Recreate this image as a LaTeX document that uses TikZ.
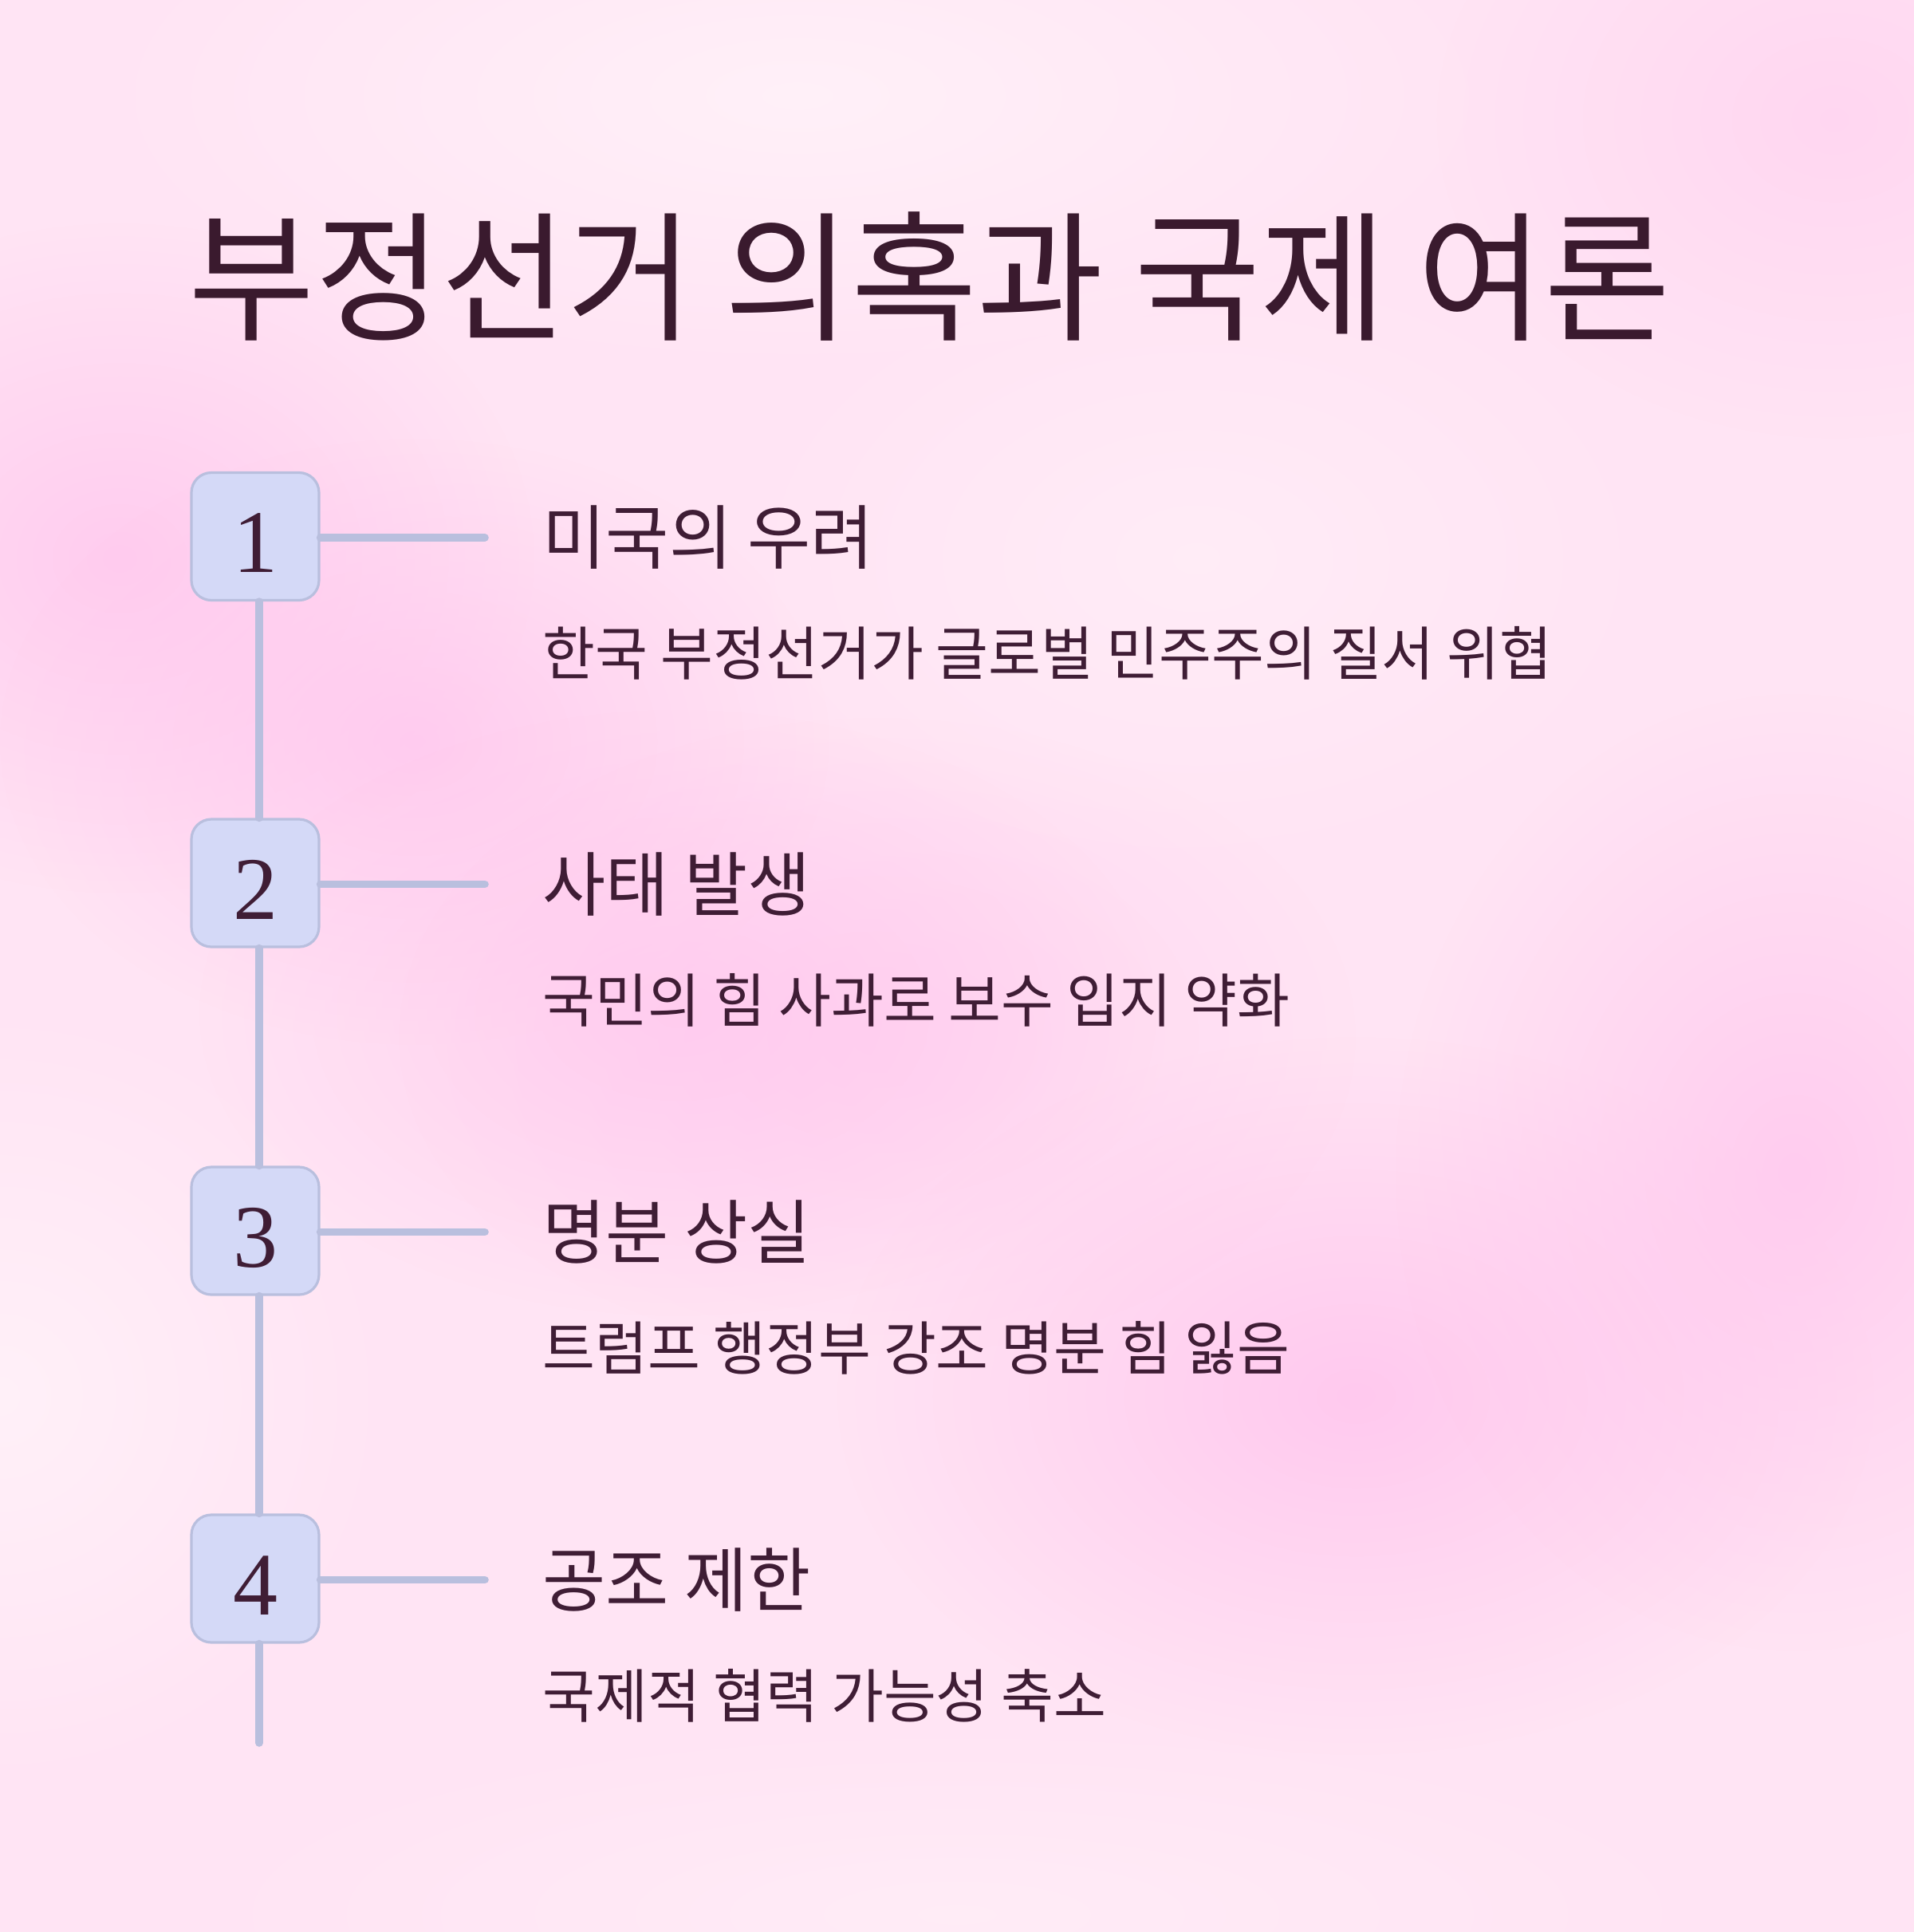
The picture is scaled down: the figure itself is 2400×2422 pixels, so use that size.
\documentclass[tikz,border=0pt]{standalone}
\usepackage{fontspec}
\newfontfamily\kr[FakeStretch=0.978]{Noto Sans CJK KR}
\newfontfamily\numfont{Liberation Serif}
\usetikzlibrary{fadings}
\definecolor{bgbase}{HTML}{FFE4F4}
\definecolor{blobpink}{HTML}{FFC6EE}
\definecolor{blobpale}{HTML}{FFF2F9}
\definecolor{ink}{HTML}{3F1D35}
\definecolor{titleink}{HTML}{3A1A2E}
\definecolor{boxfill}{HTML}{D4D9F7}
\definecolor{boxline}{HTML}{B9BFDE}
\tikzfading[name=blobfade, inner color=transparent!0, outer color=transparent!100]
\tikzset{
  numbox/.style={draw=boxline, line width=0.8pt, fill=boxfill, rounded corners=6.25pt,
    minimum width=40pt, minimum height=40pt, inner sep=0pt},
  numtext/.style={anchor=base, inner sep=0pt, text=ink, font=\numfont\fontsize{28}{28}\selectfont},
  tline/.style={draw=boxline, line width=2.4pt, line cap=round},
  heading/.style={anchor=base west, inner sep=0pt, text=ink, font=\kr\fontsize{22}{22}\selectfont},
  subtext/.style={anchor=base west, inner sep=0pt, text=ink, font=\kr\fontsize{18.3}{18.3}\selectfont},
  titletext/.style={anchor=base west, inner sep=0pt, text=titleink, font=\kr\fontsize{44}{44}\selectfont},
  blob/.style={path fading=blobfade}
}
\begin{document}
\begin{tikzpicture}[x=0.25pt,y=-0.25pt]
\fill[bgbase] (0,0) rectangle (2400,2422);
\useasboundingbox (0,0) rectangle (2400,2422);
% background blobs
\fill[blobpink, blob, opacity=0.8] (150,700) ellipse (520 and 420);
\fill[blobpink, blob, opacity=0.8] (520,930) ellipse (520 and 380);
\fill[blobpink, blob, opacity=0.7] (850,1270) ellipse (600 and 380);
\fill[blobpink, blob, opacity=0.9] (1700,1750) ellipse (650 and 450);
\fill[blobpink, blob, opacity=0.8] (2250,1470) ellipse (500 and 600);
\fill[blobpink, blob, opacity=0.45] (2300,150) ellipse (500 and 400);
\fill[blobpink, blob, opacity=0.5] (1100,1300) ellipse (600 and 400);
\fill[blobpale, blob, opacity=0.9] (1000,120) ellipse (900 and 350);
\fill[blobpale, blob, opacity=0.9] (0,1750) ellipse (500 and 500);
\fill[blobpale, blob, opacity=0.6] (1200,2400) ellipse (1000 and 250);
\fill[blobpale, blob, opacity=0.6] (1500,700) ellipse (600 and 400);

% title
\node[titletext] (title) at (236,413) {부정선거 의혹과 국제 여론};

% boxes
\node[numbox] (b1) at (320,672.5) {};
\node[numbox] (b2) at (320,1107) {};
\node[numbox] (b3) at (320,1543) {};
\node[numbox] (b4) at (320,1979) {};
\node[numtext] (n1) at (320,717) {1};
\node[numtext] (n2) at (320,1152) {2};
\node[numtext] (n3) at (320,1588) {3};
\node[numtext] (n4) at (320,2024) {4};

% connector ends
\coordinate (e1) at (608,674);
\coordinate (e2) at (608,1108.5);
\coordinate (e3) at (608,1544.5);
\coordinate (e4) at (608,1980.5);
\coordinate (tailend) at (325,2185);

% vertical spine and branches
\begin{scope}[tline]
\draw ([xshift=1.25pt]b1.south) -- ([xshift=1.25pt]b2.north);
\draw ([xshift=1.25pt]b2.south) -- ([xshift=1.25pt]b3.north);
\draw ([xshift=1.25pt]b3.south) -- ([xshift=1.25pt]b4.north);
\draw ([xshift=1.25pt]b4.south) -- (tailend);
\draw (b1.east |- e1) -- (e1);
\draw (b2.east |- e2) -- (e2);
\draw (b3.east |- e3) -- (e3);
\draw (b4.east |- e4) -- (e4);
\end{scope}

% headings and texts
\node[heading] (h1) at (680,706) {미국의 우려};
\node[subtext] (s1) at (680,846) {한국 부정선거가 글로벌 민주주의 질서 위협};
\node[heading] (h2) at (680,1141) {사태 발생};
\node[subtext] (s2) at (680,1281) {국민의 힘 사과로 보수 입지 약화};
\node[heading] (h3) at (680,1577) {명분 상실};
\node[subtext] (s3) at (680,1717) {트럼프 행정부 강조 명분 힘 잃음};
\node[heading] (h4) at (680,2013) {공조 제한};
\node[subtext] (s4) at (680,2153) {국제적 협력 가능성 축소};
\end{tikzpicture}
\end{document}
